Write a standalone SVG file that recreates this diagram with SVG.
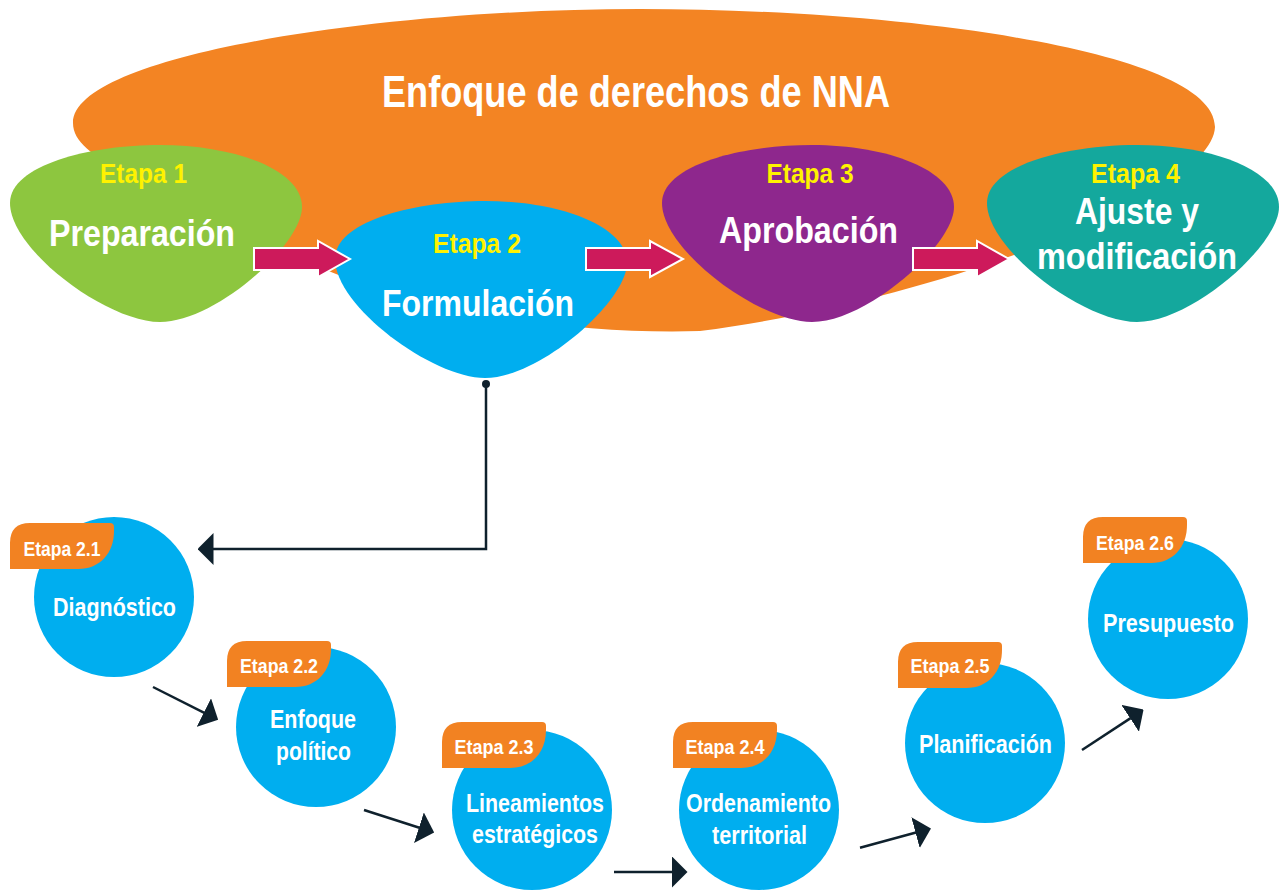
<svg xmlns="http://www.w3.org/2000/svg" xmlns:xlink="http://www.w3.org/1999/xlink" width="1279" height="891" viewBox="0 0 1279 891">
<style>
text{font-family:"Liberation Sans",Arial,sans-serif;font-weight:bold;text-anchor:middle}
.et{fill:#fff200;font-size:27px}
.big{fill:#ffffff;font-size:37px}
.tag{fill:#ffffff;font-size:20px}
.lab{fill:#ffffff;font-size:25px}
.blk{fill:#cd1a5b;stroke:#ffffff;stroke-width:2}
.con{fill:none;stroke:#0f212d;stroke-width:2.5}
.circ{fill:#00aeef}
.tg{fill:#f28222}
</style>
<defs>
<path id="blob" d="M0,58 C0,20 80,0 150,0 C225,0 292,25 292,62 C292,100 205,177 150,177 C97,177 0,105 0,58 Z"/>
<path id="tagshape" d="M0,46 V20 Q0,0 20,0 H100 Q104,0 104,4 V8 C104,30 90,46 68,46 Z"/>
<marker id="ah" markerUnits="userSpaceOnUse" viewBox="0 0 16 32" refX="0.5" refY="16" markerWidth="16" markerHeight="32" orient="auto">
<path d="M0,0 L16,16 L0,32 Z" fill="#0f212d"/>
</marker>
</defs>

<g id="enfoque">
<path d="M73,123 C73,55 380,9 640,9 C900,9 1215,50 1215,127 C1212,195 940,300 700,331 C550,336 350,300 250,230 C150,180 73,160 73,123 Z" fill="#f38423"/>
<text x="636" y="107" font-size="44" fill="#ffffff" textLength="508" lengthAdjust="spacingAndGlyphs">Enfoque de derechos de NNA</text>
</g>

<g id="etapa1">
<use xlink:href="#blob" href="#blob" transform="translate(10,145)" fill="#8dc63f"/>
<text class="et" x="143.5" y="183" textLength="87" lengthAdjust="spacingAndGlyphs">Etapa 1</text>
<text class="big" x="142" y="246" textLength="186" lengthAdjust="spacingAndGlyphs">Preparación</text>
</g>

<g id="etapa2">
<use xlink:href="#blob" href="#blob" transform="translate(335,201)" fill="#00aeef"/>
<text class="et" x="477" y="253" textLength="88" lengthAdjust="spacingAndGlyphs">Etapa 2</text>
<text class="big" x="478" y="316" textLength="192" lengthAdjust="spacingAndGlyphs">Formulación</text>
</g>

<g id="etapa3">
<use xlink:href="#blob" href="#blob" transform="translate(662,145)" fill="#8e278d"/>
<text class="et" x="810" y="183" textLength="87" lengthAdjust="spacingAndGlyphs">Etapa 3</text>
<text class="big" x="808.5" y="243" textLength="179" lengthAdjust="spacingAndGlyphs">Aprobación</text>
</g>

<g id="etapa4">
<use xlink:href="#blob" href="#blob" transform="translate(987,145)" fill="#14a89d"/>
<text class="et" x="1135.5" y="183" textLength="89" lengthAdjust="spacingAndGlyphs">Etapa 4</text>
<text class="big" x="1137" y="224" textLength="124" lengthAdjust="spacingAndGlyphs">Ajuste y</text>
<text class="big" x="1137" y="269" textLength="200" lengthAdjust="spacingAndGlyphs">modificación</text>
</g>

<g id="block-arrows">
<path class="blk" d="M254,248 H318 V241 L350,259 L318,277 V270 H254 Z"/>
<path class="blk" d="M586,248 H650 V241 L683,259 L650,277 V270 H586 Z"/>
<path class="blk" d="M913,248 H977 V241 L1009,259 L977,277 V270 H913 Z"/>
</g>

<g id="e21">
<circle class="circ" cx="114" cy="597" r="80"/>
<use class="tg" xlink:href="#tagshape" href="#tagshape" transform="translate(10,523)"/>
<text class="tag" x="62" y="556" textLength="77" lengthAdjust="spacingAndGlyphs">Etapa 2.1</text>
<text class="lab" x="114.5" y="616" textLength="123" lengthAdjust="spacingAndGlyphs">Diagnóstico</text>
</g>

<g id="e22">
<circle class="circ" cx="316" cy="727" r="80"/>
<use class="tg" xlink:href="#tagshape" href="#tagshape" transform="translate(227,641)"/>
<text class="tag" x="279" y="673" textLength="78" lengthAdjust="spacingAndGlyphs">Etapa 2.2</text>
<text class="lab" x="313" y="728" textLength="86" lengthAdjust="spacingAndGlyphs">Enfoque</text>
<text class="lab" x="313.5" y="760" textLength="75" lengthAdjust="spacingAndGlyphs">político</text>
</g>

<g id="e23">
<circle class="circ" cx="532" cy="810" r="80"/>
<use class="tg" xlink:href="#tagshape" href="#tagshape" transform="translate(442,722)"/>
<text class="tag" x="494" y="754" textLength="79" lengthAdjust="spacingAndGlyphs">Etapa 2.3</text>
<text class="lab" x="535" y="812" textLength="138" lengthAdjust="spacingAndGlyphs">Lineamientos</text>
<text class="lab" x="535" y="843" textLength="126" lengthAdjust="spacingAndGlyphs">estratégicos</text>
</g>

<g id="e24">
<circle class="circ" cx="759" cy="810" r="80"/>
<use class="tg" xlink:href="#tagshape" href="#tagshape" transform="translate(673,722)"/>
<text class="tag" x="725" y="754" textLength="79" lengthAdjust="spacingAndGlyphs">Etapa 2.4</text>
<text class="lab" x="758.5" y="812" textLength="145" lengthAdjust="spacingAndGlyphs">Ordenamiento</text>
<text class="lab" x="759.5" y="844" textLength="95" lengthAdjust="spacingAndGlyphs">territorial</text>
</g>

<g id="e25">
<circle class="circ" cx="985" cy="743" r="80"/>
<use class="tg" xlink:href="#tagshape" href="#tagshape" transform="translate(898,642)"/>
<text class="tag" x="950" y="673" textLength="79" lengthAdjust="spacingAndGlyphs">Etapa 2.5</text>
<text class="lab" x="985.5" y="753" textLength="133" lengthAdjust="spacingAndGlyphs">Planificación</text>
</g>

<g id="e26">
<circle class="circ" cx="1168" cy="619" r="80"/>
<use class="tg" xlink:href="#tagshape" href="#tagshape" transform="translate(1083,517)"/>
<text class="tag" x="1135" y="550" textLength="78" lengthAdjust="spacingAndGlyphs">Etapa 2.6</text>
<text class="lab" x="1168.5" y="632" textLength="131" lengthAdjust="spacingAndGlyphs">Presupuesto</text>
</g>

<g id="connectors">
<circle cx="486" cy="384" r="4" fill="#0f212d"/>
<polyline class="con" points="486,384 486,549 213,549" marker-end="url(#ah)"/>
<line class="con" x1="153" y1="687" x2="204.3" y2="712.8" marker-end="url(#ah)"/>
<line class="con" x1="364" y1="810" x2="419.4" y2="827.8" marker-end="url(#ah)"/>
<line class="con" x1="614" y1="872" x2="672" y2="872" marker-end="url(#ah)"/>
<line class="con" x1="860" y1="847.7" x2="916" y2="832.5" marker-end="url(#ah)"/>
<line class="con" x1="1082" y1="750" x2="1130.6" y2="718.1" marker-end="url(#ah)"/>
</g>
</svg>
